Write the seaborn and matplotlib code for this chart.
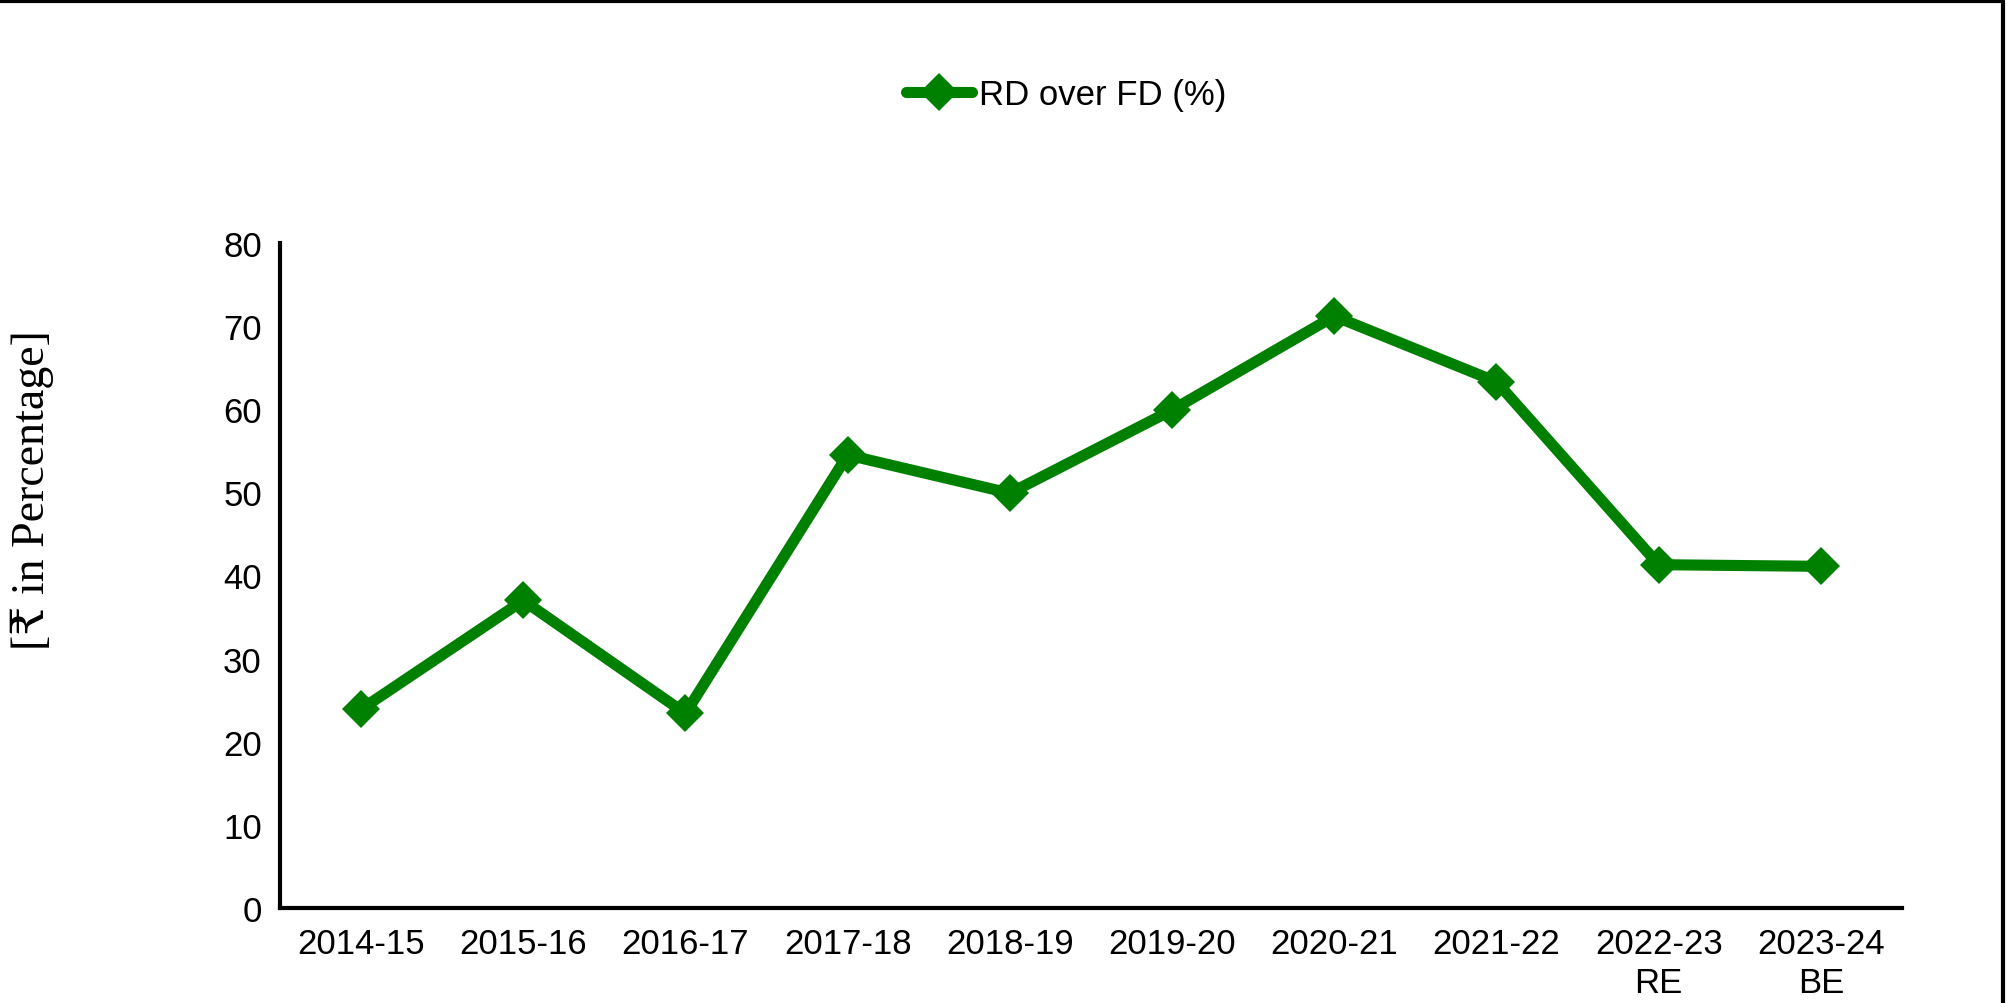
import matplotlib
matplotlib.use("Agg")
import matplotlib.pyplot as plt
from matplotlib.lines import Line2D
import pandas as pd
import seaborn as sns

years = ["2014-15", "2015-16", "2016-17", "2017-18", "2018-19",
         "2019-20", "2020-21", "2021-22", "2022-23\nRE", "2023-24\nBE"]
rd_over_fd = [23.9, 37.0, 23.4, 54.5, 49.9, 59.9, 71.2, 63.3, 41.3, 41.1]

df = pd.DataFrame({"year": years, "value": rd_over_fd})

sns.set_style("white")
plt.rcParams['font.family'] = ['Liberation Sans', 'DejaVu Sans']
plt.rcParams['text.color'] = 'black'

fig = plt.figure(figsize=(20.11, 10.04), dpi=100)
ax = fig.add_axes([0.1392, 0.0946, 0.8066, 0.6624])

sns.lineplot(data=df, x="year", y="value", sort=False, ax=ax,
             color="#008000", linewidth=8, marker="D", markersize=19,
             markeredgewidth=0, label="RD over FD (%)")

ax.set_xlim(-0.5, 9.5)
ax.set_ylim(0, 80)
ax.set_yticks(range(0, 81, 10))
ax.set_xlabel("")
ax.set_ylabel("")
ax.tick_params(axis="both", length=0, labelsize=25, colors="black")
ax.tick_params(axis="y", pad=13)
ax.tick_params(axis="x", pad=14)

for side in ["top", "right"]:
    ax.spines[side].set_visible(False)
for side in ["left", "bottom"]:
    ax.spines[side].set_color("black")
    ax.spines[side].set_linewidth(3)

leg = ax.legend(loc="center", bbox_to_anchor=(0.53, 0.905),
                bbox_transform=fig.transFigure, frameon=False, fontsize=25,
                handlelength=1.9, handletextpad=0.2)
for t in leg.get_texts():
    t.set_color("black")

fig.text(0.016, 0.512, "[₹ in Percentage]", rotation=90, ha="center",
         va="center", fontsize=33, color="black",
         family=['Liberation Serif', 'DejaVu Serif', 'DejaVu Sans'])

# outer frame (top and right only)
fig.add_artist(Line2D([0, 0.9960], [0.998, 0.998], color="black",
                      linewidth=3, transform=fig.transFigure))
fig.add_artist(Line2D([0.9960, 0.9960], [0, 0.998], color="black",
                      linewidth=3, transform=fig.transFigure))

fig.savefig("out.png", dpi=100)
